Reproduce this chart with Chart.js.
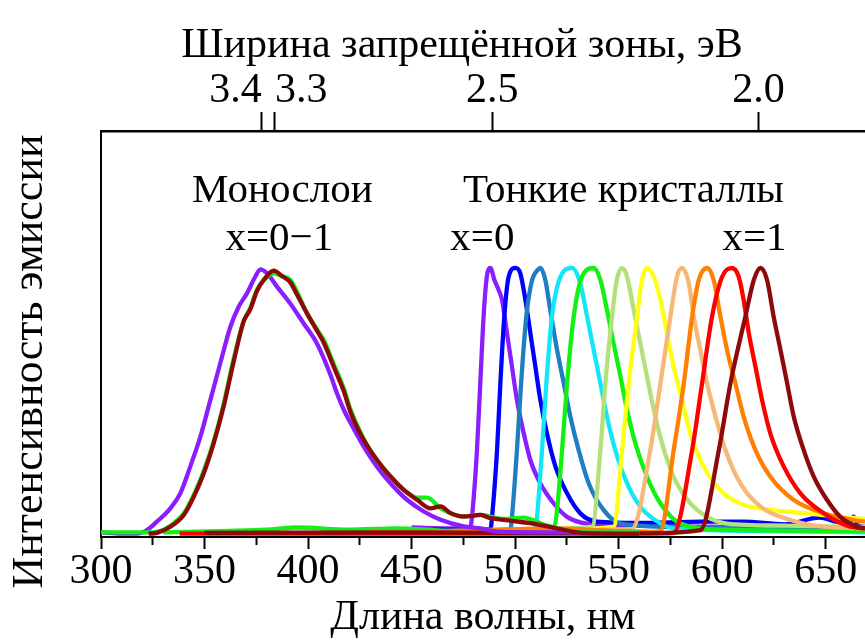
<!DOCTYPE html>
<html><head><meta charset="utf-8">
<script src="https://cdn.jsdelivr.net/npm/chart.js@4"></script>
<style>html,body{margin:0;padding:0;background:#fff}canvas{display:block}</style>
</head><body>
<canvas id="c" width="865" height="642"></canvas>
<script>
// ---------- DATA (wavelength nm, normalized intensity) ----------
const wavelengthMin = 300;
const wavelengthMax = 669;
const bandGapLabels = ['3.4', '3.3', '2.5', '2.0'];
const bandGapTickNm = [377.6, 384, 489, 617.6];

// Monolayers x = 0–1
const mono_purple = [[300,0.01],[310,0.005],[317.4,0.005],[322.2,0.018],[327,0.05],[333.5,0.1],[338.3,0.156],[343.1,0.256],[348,0.368],[352.8,0.505],[357.6,0.643],[362.5,0.78],[366.5,0.855],[370.5,0.905],[374.5,0.967],[377,0.995],[380.2,0.98],[385,0.93],[391.4,0.867],[397.9,0.792],[404.3,0.717],[410.8,0.6],[414,0.53],[417.2,0.47],[420.5,0.42],[426.9,0.331],[433.3,0.256],[439.8,0.194],[447.8,0.132],[455.9,0.088],[464,0.057],[475.2,0.032],[483.3,0.025],[491.3,0.013],[520,0.01],[560,0.008]];
const mono_green = [[300,0.01],[322,0.01],[327,0.012],[333.5,0.035],[339.9,0.08],[344.8,0.15],[349.6,0.24],[354.4,0.35],[359.2,0.49],[364.1,0.66],[368.9,0.8],[372.1,0.85],[375.4,0.92],[378.6,0.955],[383.4,0.98],[387.4,0.97],[391.5,0.955],[394.7,0.91],[399.5,0.83],[404.3,0.77],[407.6,0.73],[412.4,0.64],[417.2,0.55],[420.5,0.47],[426.9,0.36],[433.3,0.28],[439.8,0.22],[446.2,0.17],[452.7,0.14],[457.5,0.14],[464,0.1],[475.2,0.07],[483.3,0.075],[494.5,0.06],[504,0.065],[515.5,0.035],[533,0.01],[560,0.01]];
const mono_darkred = [[323,0.005],[327,0.008],[333.5,0.031],[339.9,0.074],[344.8,0.143],[349.6,0.23],[354.4,0.343],[359.2,0.48],[364.1,0.65],[368.9,0.8],[372.1,0.845],[375.4,0.915],[378.6,0.955],[383.4,0.99],[387.4,0.97],[391.5,0.945],[394.7,0.9],[399.5,0.83],[404.3,0.765],[407.6,0.72],[412.4,0.63],[417.2,0.54],[420.5,0.46],[426.9,0.356],[433.3,0.281],[439.8,0.219],[446.2,0.169],[452.7,0.132],[459.1,0.1],[464,0.107],[468.8,0.082],[475.2,0.069],[483.3,0.075],[488.1,0.063],[494.5,0.057],[501,0.05],[507.4,0.044],[515.5,0.032],[523.5,0.019],[533.2,0.007],[560,0.005]];

// Thin crystals x = 0 … 1
const cr_x0 = [[450,0.028],[470,0.025],[478.4,0.03],[479.2,0.07],[481.6,0.32],[483.2,0.57],[484.8,0.82],[486.4,0.97],[488.1,1.0],[490,0.955],[492.1,0.917],[493.7,0.88],[496.1,0.755],[498.5,0.63],[500.9,0.505],[504.2,0.38],[507.4,0.28],[512.2,0.193],[518.7,0.118],[525.1,0.068],[534.8,0.043],[560,0.035],[600,0.03],[640,0.025],[660,0.03],[663.5,0.07],[666,0.03],[669,0.02]];
const cr_x1 = [[460,0.02],[488.1,0.022],[488.9,0.07],[491.3,0.32],[492.9,0.57],[494.8,0.82],[496.9,0.967],[500.1,1.0],[502.5,0.98],[505,0.88],[507.4,0.755],[509.8,0.63],[512.2,0.505],[515.4,0.38],[519.5,0.256],[525.1,0.156],[531.5,0.081],[539.6,0.05],[560,0.045],[590,0.05],[610,0.05],[630,0.04],[647,0.065],[655,0.05],[669,0.03]];
const cr_x2 = [[470,0.015],[497.7,0.02],[498.5,0.068],[500.9,0.318],[502.9,0.568],[505.4,0.817],[508.2,0.955],[510.6,0.99],[512.2,1.0],[514.6,0.955],[517,0.842],[520.3,0.692],[523.5,0.568],[526.7,0.443],[530.7,0.318],[535.6,0.193],[542.8,0.093],[550.9,0.043],[580,0.03],[620,0.025],[669,0.02]];
const cr_x3 = [[480,0.015],[509.8,0.02],[510.6,0.068],[513,0.318],[515.1,0.568],[517.8,0.817],[521.9,0.967],[527.5,1.0],[531.5,0.942],[534.8,0.817],[538,0.692],[541.2,0.568],[544.4,0.443],[548.4,0.318],[554.1,0.193],[560.5,0.106],[570.2,0.043],[576.6,0.025],[620,0.015],[669,0.01]];
const cr_x4 = [[330,0.01],[380,0.02],[395,0.028],[420,0.02],[443,0.025],[470,0.015],[500,0.02],[518.7,0.025],[519.9,0.068],[522.7,0.318],[525.1,0.568],[528.3,0.817],[532.3,0.967],[538,1.0],[541.2,0.955],[544.4,0.842],[547.6,0.717],[550.9,0.593],[554.1,0.468],[558.1,0.343],[563.7,0.218],[570.2,0.118],[579.8,0.043],[600,0.02],[669,0.015]];
const cr_x5 = [[500,0.02],[537.2,0.031],[541.2,0.318],[543.6,0.568],[546.8,0.817],[549,0.95],[551.7,1.0],[554.1,0.967],[557.3,0.842],[560.5,0.717],[563.7,0.593],[567,0.468],[571,0.343],[576.6,0.218],[584.7,0.118],[592.7,0.068],[602.4,0.043],[630,0.035],[669,0.03]];
const cr_x6 = [[520,0.02],[547.6,0.031],[551.7,0.318],[554.9,0.568],[558.9,0.817],[561.3,0.955],[563.7,1.0],[567,0.967],[570.2,0.88],[573.4,0.755],[576.6,0.63],[580.6,0.505],[584.7,0.38],[591.1,0.256],[599.2,0.168],[608.8,0.118],[624.9,0.093],[641,0.081],[657.1,0.068],[669,0.06]];
const cr_x7 = [[540,0.02],[556.5,0.022],[565.3,0.318],[570.2,0.568],[575,0.817],[578.2,0.967],[580.6,1.0],[583.9,0.942],[586.3,0.817],[589.5,0.692],[592.7,0.568],[596.8,0.443],[601.6,0.318],[608.8,0.193],[618.5,0.106],[633,0.056],[649.1,0.031],[669,0.025]];
const cr_x8 = [[430,0.015],[450,0.013],[520,0.025],[547.6,0.015],[566,0.012],[570.2,0.015],[576.6,0.318],[581.5,0.568],[585.5,0.817],[588.7,0.955],[592.7,1.0],[595.9,0.955],[599.2,0.817],[602.4,0.692],[606.4,0.568],[610.4,0.443],[616.1,0.318],[623.3,0.218],[634.6,0.131],[649.1,0.081],[663.6,0.056],[669,0.05]];
const cr_x9 = [[338,0.005],[450,0.005],[570,0.006],[576.6,0.008],[585.5,0.318],[590.3,0.568],[595.1,0.817],[600,0.967],[604.8,1.0],[608,0.967],[610.4,0.88],[612.9,0.755],[616.1,0.63],[619.3,0.505],[623.3,0.38],[629.8,0.256],[637.8,0.156],[649.1,0.081],[662,0.031],[669,0.025]];
const cr_x10 = [[350,0.008],[450,0.01],[560,0.006],[589.5,0.018],[598.4,0.318],[604,0.568],[611.2,0.817],[615.3,0.955],[618.5,1.0],[621.7,0.955],[624.9,0.817],[628.2,0.692],[631.4,0.568],[634.6,0.443],[639.4,0.318],[644.3,0.218],[650.7,0.131],[657.1,0.068],[665.2,0.031],[669,0.025]];

const annotationTexts = ['Монослои', 'x=0\u22121', 'Тонкие кристаллы', 'x=0', 'x=1'];

// ---------- STYLE ----------
const FONT = "'Liberation Serif','Times New Roman',serif";
const FS = 42;
Chart.defaults.font.family = FONT;
Chart.defaults.color = '#000';

// drawing order: first = bottom
const series = [
  {d: cr_x0, c: '#8B1EFF'},
  {d: cr_x1, c: '#0000FF'},
  {d: cr_x2, c: '#1F7DC4'},
  {d: cr_x3, c: '#14E6FA'},
  {d: cr_x4, c: '#14F014'},
  {d: cr_x5, c: '#B3E07A'},
  {d: cr_x6, c: '#FFFF14'},
  {d: cr_x7, c: '#F5B878'},
  {d: cr_x8, c: '#FF8000'},
  {d: cr_x9, c: '#FF0000'},
  {d: cr_x10, c: '#8E0A0A'},
  {d: mono_purple, c: '#8B1EFF'},
  {d: mono_green, c: '#14F014'},
  {d: mono_darkred, c: '#8E0A0A'}
];
const N = series.length;
const datasets = series.map((s, i) => ({
  data: s.d.map(p => ({x: p[0], y: p[1]})),
  borderColor: s.c,
  borderWidth: 4.3,
  pointRadius: 0,
  fill: false,
  cubicInterpolationMode: 'monotone',
  order: N - i
}));

const annotationPos = {x: [387.6, 386.1, 552.3, 484.2, 615.6], y: [1.247, 1.067, 1.247, 1.067, 1.067]};
const annotationPlugin = {
  id: 'annot',
  afterDatasetsDraw(chart) {
    const {ctx, scales: {x, y}} = chart;
    ctx.save();
    ctx.font = '41px ' + FONT;
    ctx.fillStyle = '#000';
    ctx.textAlign = 'center';
    ctx.textBaseline = 'alphabetic';
    annotationTexts.forEach((t, i) => {
      ctx.fillText(t, x.getPixelForValue(annotationPos.x[i]), y.getPixelForValue(annotationPos.y[i]));
    });
    ctx.restore();
  }
};

new Chart(document.getElementById('c'), {
  type: 'line',
  data: {datasets},
  options: {
    responsive: false,
    animation: false,
    devicePixelRatio: 1,
    layout: {padding: 0},
    plugins: {legend: {display: false}, tooltip: {enabled: false}},
    scales: {
      x: {
        type: 'linear', position: 'bottom', min: wavelengthMin, max: wavelengthMax,
        ticks: {
          stepSize: 25, autoSkip: false, includeBounds: false, maxRotation: 0, padding: 2,
          font: {size: FS, lineHeight: 1}, color: '#000',
          callback: v => (v % 50 === 0 ? String(v) : '')
        },
        grid: {
          drawOnChartArea: false, tickLength: 12, tickWidth: 2, tickColor: '#000',
          tickBorderDash: ctx => (ctx.tick && ctx.tick.value % 50 !== 0) ? [7, 40] : []
        },
        border: {display: true, color: '#000', width: 2},
        title: {display: true, text: 'Длина волны, нм', color: '#000',
                font: {size: FS, lineHeight: 1}, padding: {top: 0, bottom: 3}},
        afterFit: s => { s.height = 105; }
      },
      x2: {
        type: 'linear', position: 'top', min: wavelengthMin, max: wavelengthMax,
        afterBuildTicks: s => { s.ticks = bandGapTickNm.map(v => ({value: v})); },
        ticks: {
          autoSkip: false, maxRotation: 0, padding: 0,
          font: {size: FS, lineHeight: 1}, color: '#000',
          callback: (v, i) => (i === 0 ? bandGapLabels[i] + '     ' : i === 1 ? '     ' + bandGapLabels[i] : bandGapLabels[i])
        },
        grid: {drawOnChartArea: false, tickLength: 19, tickWidth: 2, tickColor: '#000'},
        border: {display: true, color: '#000', width: 2.5},
        title: {display: true, text: 'Ширина запрещённой зоны, эВ    ', color: '#000',
                font: {size: FS, lineHeight: 1}, padding: {top: 24.5, bottom: 0}},
        afterFit: s => { s.height = 131; }
      },
      y: {
        position: 'left', min: -0.0075, max: 1.513,
        ticks: {display: false},
        grid: {display: false},
        border: {display: true, color: '#000', width: 2},
        title: {display: true, text: 'Интенсивность эмиссии     ', color: '#000',
                font: {size: 44, lineHeight: 1}, padding: {top: 8, bottom: 0}},
        afterFit: s => { s.width = 101; }
      }
    }
  },
  plugins: [annotationPlugin]
});
</script></body></html>
